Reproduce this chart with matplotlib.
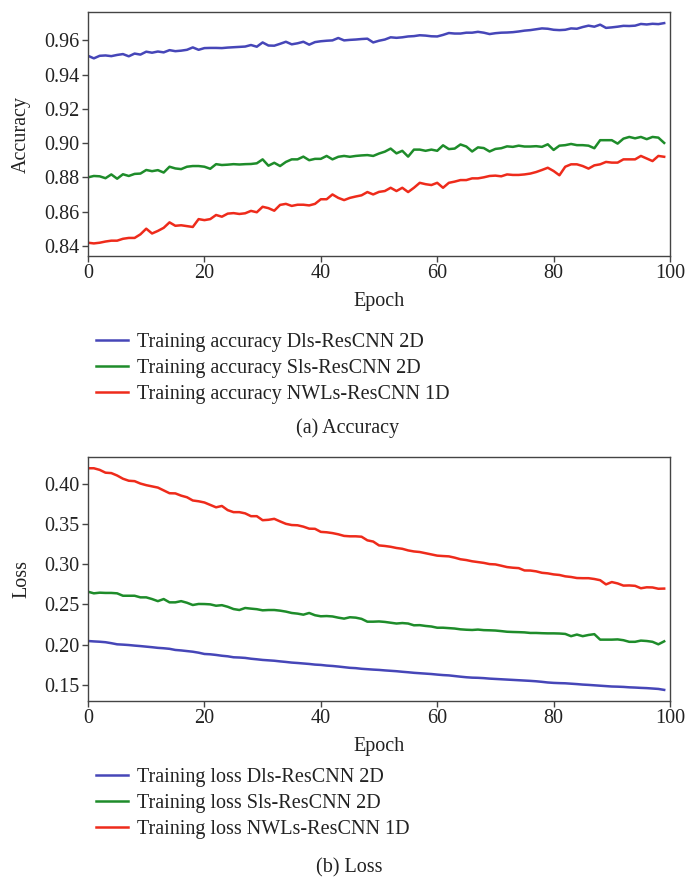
import numpy as np
import matplotlib
matplotlib.use("Agg")
import matplotlib.pyplot as plt

plt.rcParams['font.family'] = ['Liberation Serif', 'DejaVu Serif']
plt.rcParams['font.size'] = 14.5

# -----------------------------
# data
# -----------------------------
epochs = np.arange(100)

acc_dls = [
    .9510, .9495, .9510, .9512, .9508, .9515, .9520, .9507, .9523, .9517,
    .9534, .9528, .9535, .9530, .9543, .9537, .9540, .9545, .9559, .9545,
    .9555, .9556, .9556, .9555, .9558, .9560, .9562, .9564, .9573, .9563,
    .9588, .9570, .9569, .9580, .9592, .9577, .9583, .9592, .9575, .9590,
    .9595, .9598, .9600, .9614, .9600, .9603, .9605, .9608, .9610, .9588,
    .9598, .9605, .9618, .9615, .9618, .9623, .9625, .9630, .9628, .9624,
    .9623, .9632, .9643, .9640, .9640, .9645, .9645, .9650, .9645, .9637,
    .9642, .9645, .9646, .9648, .9652, .9657, .9660, .9665, .9670, .9668,
    .9662, .9660, .9662, .9670, .9668, .9678, .9686, .9680, .9692, .9673,
    .9676, .9680, .9685, .9684, .9686, .9696, .9693, .9697, .9695, .9701,
]
acc_sls = [
    .8800, .8808, .8806, .8795, .8817, .8792, .8818, .8808, .8820, .8822,
    .8843, .8836, .8842, .8828, .8862, .8852, .8848, .8862, .8866, .8866,
    .8862, .8850, .8877, .8872, .8874, .8877, .8875, .8877, .8878, .8882,
    .8905, .8868, .8885, .8866, .8890, .8905, .8905, .8921, .8900, .8908,
    .8908, .8925, .8905, .8920, .8925, .8920, .8925, .8928, .8930, .8925,
    .8939, .8950, .8968, .8940, .8955, .8921, .8962, .8962, .8955, .8962,
    .8955, .8987, .8965, .8968, .8992, .8980, .8951, .8975, .8971, .8951,
    .8966, .8970, .8981, .8978, .8985, .8980, .8980, .8982, .8978, .8993,
    .8960, .8985, .8988, .8995, .8988, .8988, .8985, .8970, .9017, .9017,
    .9017, .8997, .9026, .9036, .9028, .9036, .9023, .9036, .9032, .9001,
]
acc_nwls = [
    .8418, .8414, .8418, .8425, .8430, .8430, .8441, .8446, .8446, .8467,
    .8500, .8472, .8487, .8505, .8537, .8517, .8520, .8515, .8510, .8556,
    .8550, .8556, .8580, .8570, .8588, .8591, .8586, .8590, .8604, .8596,
    .8628, .8620, .8605, .8639, .8645, .8633, .8640, .8640, .8636, .8645,
    .8672, .8672, .8700, .8680, .8667, .8680, .8688, .8695, .8714, .8700,
    .8715, .8720, .8739, .8720, .8739, .8714, .8739, .8768, .8760, .8755,
    .8768, .8739, .8768, .8775, .8784, .8784, .8794, .8794, .8800, .8808,
    .8810, .8806, .8817, .8814, .8814, .8817, .8822, .8831, .8843, .8856,
    .8837, .8812, .8862, .8876, .8876, .8866, .8851, .8870, .8876, .8890,
    .8886, .8886, .8905, .8905, .8905, .8925, .8910, .8895, .8925, .8920,
]

loss_dls = [
    .2045, .2040, .2036, .2030, .2018, .2004, .2000, .1995, .1988, .1982,
    .1975, .1968, .1960, .1955, .1948, .1934, .1928, .1920, .1912, .1900,
    .1884, .1880, .1872, .1862, .1855, .1843, .1840, .1835, .1825, .1818,
    .1810, .1805, .1800, .1792, .1785, .1777, .1772, .1766, .1760, .1752,
    .1748, .1740, .1735, .1728, .1720, .1712, .1708, .1700, .1695, .1690,
    .1686, .1680, .1675, .1670, .1663, .1657, .1650, .1645, .1640, .1635,
    .1628, .1622, .1618, .1610, .1602, .1595, .1590, .1588, .1584, .1578,
    .1574, .1570, .1566, .1562, .1558, .1554, .1550, .1545, .1538, .1530,
    .1525, .1522, .1520, .1515, .1510, .1504, .1500, .1495, .1490, .1485,
    .1480, .1478, .1475, .1470, .1467, .1463, .1460, .1455, .1450, .1438,
]
loss_sls = [
    .2657, .2637, .2645, .2642, .2642, .2637, .2607, .2607, .2607, .2587,
    .2587, .2566, .2540, .2566, .2525, .2525, .2540, .2520, .2492, .2505,
    .2504, .2500, .2483, .2490, .2470, .2442, .2430, .2455, .2447, .2440,
    .2426, .2430, .2430, .2422, .2410, .2393, .2385, .2372, .2393, .2365,
    .2352, .2355, .2350, .2335, .2323, .2340, .2335, .2320, .2285, .2285,
    .2288, .2282, .2272, .2262, .2268, .2262, .2240, .2242, .2232, .2225,
    .2210, .2210, .2205, .2200, .2190, .2185, .2182, .2187, .2180, .2178,
    .2175, .2168, .2160, .2157, .2155, .2152, .2145, .2145, .2142, .2140,
    .2140, .2138, .2133, .2105, .2125, .2105, .2120, .2130, .2062, .2062,
    .2062, .2065, .2055, .2035, .2035, .2050, .2045, .2035, .2004, .2041,
]
loss_nwls = [
    .4190, .4190, .4170, .4135, .4130, .4100, .4060, .4035, .4030, .4000,
    .3980, .3965, .3950, .3915, .3880, .3878, .3850, .3830, .3790, .3780,
    .3765, .3735, .3705, .3722, .3670, .3645, .3645, .3630, .3595, .3595,
    .3545, .3550, .3562, .3530, .3500, .3485, .3482, .3465, .3440, .3438,
    .3400, .3395, .3385, .3370, .3350, .3345, .3345, .3340, .3295, .3280,
    .3232, .3225, .3215, .3200, .3190, .3170, .3157, .3150, .3135, .3120,
    .3105, .3100, .3096, .3080, .3060, .3050, .3035, .3025, .3015, .3000,
    .2996, .2980, .2963, .2955, .2950, .2921, .2920, .2910, .2892, .2885,
    .2872, .2865, .2848, .2840, .2827, .2825, .2825, .2815, .2800, .2748,
    .2777, .2760, .2733, .2735, .2730, .2700, .2712, .2710, .2694, .2696,
]

acc_labels = ["Training accuracy Dls-ResCNN 2D",
              "Training accuracy Sls-ResCNN 2D",
              "Training accuracy NWLs-ResCNN 1D"]
loss_labels = ["Training loss Dls-ResCNN 2D",
               "Training loss Sls-ResCNN 2D",
               "Training loss NWLs-ResCNN 1D"]
colors = ["#4646b8", "#1e8c2a", "#ee2b1b"]

# -----------------------------
# figure
# -----------------------------
fig = plt.figure(figsize=(6.91, 8.8), dpi=100)
ax1 = fig.add_axes([0.1274, 0.709, 0.8422, 0.2772])
ax2 = fig.add_axes([0.1274, 0.2034, 0.8422, 0.2773])


def style_axes(ax):
    for sp in ax.spines.values():
        sp.set_color("#444444")
        sp.set_linewidth(1.0)
    ax.tick_params(direction="out", length=4, width=1.0, color="#444444",
                   labelcolor="#222222", labelsize=14.5, pad=2)
    ax.set_xlim(0, 100)
    ax.set_xticks([0, 20, 40, 60, 80, 100])
    ax.set_xlabel("Epoch", fontsize=14.5, color="#222222", labelpad=6)


# accuracy
for ys, lab, c in zip([acc_dls, acc_sls, acc_nwls], acc_labels, colors):
    ax1.plot(epochs, ys, color=c, lw=1.8, label=lab)
ax1.set_ylim(0.834, 0.9765)
ax1.set_yticks([0.84, 0.86, 0.88, 0.90, 0.92, 0.94, 0.96])
ax1.set_yticklabels(["0.84", "0.86", "0.88", "0.90", "0.92", "0.94", "0.96"])
ax1.set_ylabel("Accuracy", fontsize=14.5, color="#222222")
style_axes(ax1)

# loss
for ys, lab, c in zip([loss_dls, loss_sls, loss_nwls], loss_labels, colors):
    ax2.plot(epochs, ys, color=c, lw=1.8, label=lab)
ax2.set_ylim(0.130, 0.433)
ax2.set_yticks([0.15, 0.20, 0.25, 0.30, 0.35, 0.40])
ax2.set_yticklabels(["0.15", "0.20", "0.25", "0.30", "0.35", "0.40"])
ax2.set_ylabel("Loss", fontsize=14.5, color="#222222")
style_axes(ax2)

ax1.yaxis.set_label_coords(-0.098, 0.5)
ax2.yaxis.set_label_coords(-0.098, 0.5)

# legends below each panel
for ax, top in [(ax1, 1 - 333 / 880), (ax2, 1 - 768 / 880)]:
    h, l = ax.get_legend_handles_labels()
    fig.legend(h, l, loc="upper left", bbox_to_anchor=(96 / 691, top),
               frameon=False, fontsize=14.5, handlelength=1.6,
               handletextpad=0.45, labelspacing=0.33, borderpad=0,
               borderaxespad=0, labelcolor="#222222")

fig.text(348 / 691, 1 - 428 / 880, "(a) Accuracy", ha="center", va="center",
         fontsize=14.5, color="#222222")
fig.text(349 / 691, 1 - 868 / 880, "(b) Loss", ha="center", va="center",
         fontsize=14.5, color="#222222")

fig.savefig("out.png", dpi=100)
